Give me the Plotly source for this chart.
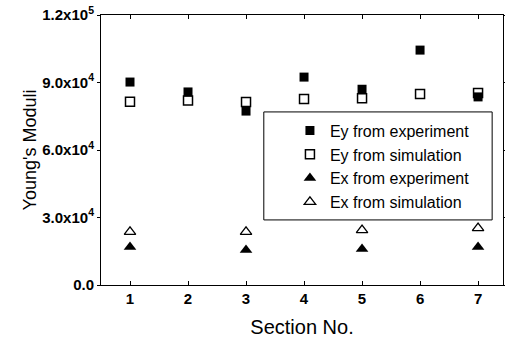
import plotly.graph_objects as go

sections = [1, 2, 3, 4, 5, 6, 7]
ey_exp = [90200, 85800, 77300, 92400, 87000, 104400, 83600]
ey_sim = [81500, 82000, 81300, 82700, 83000, 84900, 85300]
ex_sections = [1, 3, 5, 7]
ex_exp = [16900, 15600, 16000, 16900]
ex_sim = [23600, 23600, 24400, 25300]

ytickvals = [0, 30000, 60000, 90000, 120000]
yticktext = ["0.0", "3.0x10<sup>4</sup>", "6.0x10<sup>4</sup>", "9.0x10<sup>4</sup>", "1.2x10<sup>5</sup>"]

FONT = "Arial, Liberation Sans, sans-serif"

fig = go.Figure()
fig.add_trace(go.Scatter(x=sections, y=ey_exp, mode="markers", name="Ey from experiment",
                         marker=dict(symbol="square", size=9, color="black")))
fig.add_trace(go.Scatter(x=sections, y=ey_sim, mode="markers", name="Ey from simulation",
                         marker=dict(symbol="square-open", size=9, color="black", line=dict(width=1.5))))
fig.add_trace(go.Scatter(x=ex_sections, y=ex_exp, mode="markers", name="Ex from experiment",
                         marker=dict(symbol="triangle-up", size=11, color="black")))
fig.add_trace(go.Scatter(x=ex_sections, y=ex_sim, mode="markers", name="Ex from simulation",
                         marker=dict(symbol="triangle-up-open", size=10, color="black", line=dict(width=1.3))))

fig.update_layout(
    width=505, height=349,
    margin=dict(l=101, r=2, t=15, b=64, autoexpand=False),
    paper_bgcolor="white", plot_bgcolor="white",
    font=dict(family=FONT, color="black"),
    showlegend=True,
    legend=dict(x=0.47, y=0.635, xanchor="left", yanchor="top",
                bgcolor="rgba(0,0,0,0)", borderwidth=0,
                font=dict(size=16, family=FONT), tracegroupgap=0,
                itemsizing="trace"),
    shapes=[dict(type="rect", xref="paper", yref="paper",
                 x0=0.405, x1=0.973, y0=0.241, y1=0.641,
                 line=dict(color="black", width=1))],
)
for i, tr in enumerate(fig.data):
    tr.legendgroup = f"g{i}"
fig.update_layout(legend_traceorder="grouped")

fig.update_xaxes(range=[0.5, 7.43], tickvals=sections, ticktext=[str(s) for s in sections],
                 ticks="inside", ticklen=4, tickcolor="black", mirror="ticks", automargin=False,
                 showline=True, linecolor="black", linewidth=1, showgrid=False, zeroline=False,
                 tickfont=dict(size=15, family=FONT, weight="bold"),
                 title=dict(text="Section No.", font=dict(size=20, family=FONT), standoff=13))
fig.update_yaxes(range=[0, 120000], tickvals=ytickvals, ticktext=yticktext,
                 ticks="outside", ticklen=3, tickcolor="black", mirror="ticks", automargin=False,
                 showline=True, linecolor="black", linewidth=1, showgrid=False, zeroline=False,
                 tickfont=dict(size=15, family=FONT, weight="bold"),
                 title=dict(text="Young's Moduli", font=dict(size=18, family=FONT), standoff=0))

fig.write_html("out.html")
